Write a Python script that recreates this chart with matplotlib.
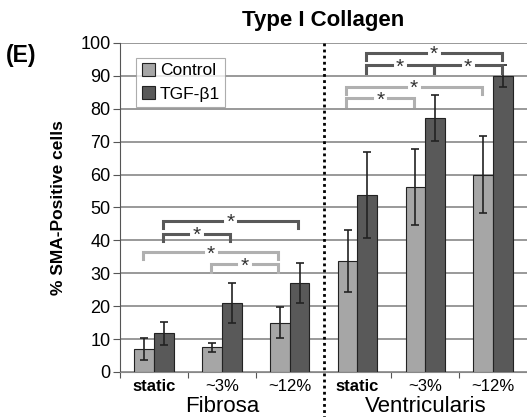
import matplotlib
matplotlib.use("Agg")
from matplotlib import pyplot as plt
import numpy as np

plt.rcParams['font.family'] = ['Liberation Sans', 'DejaVu Sans']

# Dados
conditions = ["static", "~3%", "~12%", "static", "~3%", "~12%"]
groups = ["Fibrosa", "Ventricularis"]
control = [7.0, 7.5, 15.0, 33.7, 56.2, 59.9]
control_err = [3.3, 1.3, 4.6, 9.5, 11.5, 11.7]
tgf = [11.7, 21.0, 27.0, 53.8, 77.2, 89.9]
tgf_err = [3.4, 6.0, 6.0, 13.0, 7.0, 3.3]

# Brackets: (série, grupo inicial, grupo final, altura)
brackets = [
    ("tgf", 0, 2, 46.0), ("tgf", 0, 1, 42.0),
    ("control", 0, 2, 36.5), ("control", 1, 2, 32.8),
    ("tgf", 3, 5, 97.0), ("tgf", 3, 4, 93.3), ("tgf", 4, 5, 93.3),
    ("control", 3, 5, 86.7), ("control", 3, 4, 83.2),
]

c_light = "#a6a6a6"
c_dark = "#595959"
w = 0.29
x = np.arange(len(conditions))

fig = plt.figure(figsize=(5.27, 4.17), dpi=100)
ax = fig.add_axes([0.228, 0.108, 0.772, 0.789])

ax.bar(x - w/2, control, w, color=c_light, edgecolor="#222222", linewidth=0.8,
       label="Control", zorder=3)
ax.bar(x + w/2, tgf, w, color=c_dark, edgecolor="#222222", linewidth=0.8,
       label="TGF-β1", zorder=3)
ax.errorbar(x - w/2, control, yerr=control_err, fmt="none", ecolor="#222222",
            elinewidth=1.2, capsize=3, capthick=1.2, zorder=4)
ax.errorbar(x + w/2, tgf, yerr=tgf_err, fmt="none", ecolor="#222222",
            elinewidth=1.2, capsize=3, capthick=1.2, zorder=4)

gap = 0.12
for serie, g0, g1, h in brackets:
    off = -w/2 if serie == "control" else w/2
    col = "#b0b0b0" if serie == "control" else c_dark
    x0, x1 = g0 + off - 0.02, g1 + off - 0.02
    xm = (x0 + x1)/2
    leg = 2.3
    ax.plot([x0, x0, xm - gap], [h - leg, h, h], color=col, lw=2.2,
            solid_joinstyle="miter", zorder=5)
    ax.plot([xm + gap, x1, x1], [h, h, h - leg], color=col, lw=2.2,
            solid_joinstyle="miter", zorder=5)
    ax.text(xm, h - 0.6, "*", ha="center", va="center", fontsize=15,
            color="#333333", zorder=6)

ax.set_xlim(-0.5, 5.5)
ax.set_ylim(0, 100)
ax.set_yticks(np.arange(0, 101, 10))
ax.tick_params(axis="y", labelsize=13, length=5, color="#555555", pad=2)
ax.grid(axis="y", color="#888888", linewidth=1.2, zorder=0)
ax.set_axisbelow(True)
ax.spines["top"].set_visible(False)
ax.spines["right"].set_visible(False)
ax.spines["left"].set_color("#555555")
ax.spines["bottom"].set_color("#888888")

ax.set_xticks([-0.5, 0.5, 1.5, 3.5, 4.5])
ax.set_xticklabels([])
ax.tick_params(axis="x", length=4, color="#555555")
for i, lab in enumerate(conditions):
    ax.text(i, -2.2, lab, ha="center", va="top", fontsize=12,
            fontweight="bold" if lab == "static" else "normal")
for j, g in enumerate(groups):
    ax.text(1 + 3*j, -7.2, g, ha="center", va="top", fontsize=16)

ax.plot([2.5, 2.5], [100, -14], color="black", lw=2, linestyle=(0, (1, 1.2)),
        clip_on=False, zorder=6)

ax.set_ylabel("% SMA-Positive cells", fontsize=12.5, fontweight="bold", labelpad=10)
fig.text(0.613, 0.952, "Type I Collagen", ha="center", va="center",
         fontsize=16, fontweight="bold")
fig.text(0.012, 0.868, "(E)", ha="left", va="center", fontsize=16.5, fontweight="bold")

leg = ax.legend(loc="upper left", bbox_to_anchor=(0.04, 0.955), fontsize=12.5,
                frameon=True, fancybox=False, edgecolor="#999999",
                handlelength=0.75, handleheight=0.75, handletextpad=0.3,
                borderpad=0.3, labelspacing=0.45, borderaxespad=0)
leg.get_frame().set_linewidth(0.8)

fig.savefig("out.png", dpi=100)
